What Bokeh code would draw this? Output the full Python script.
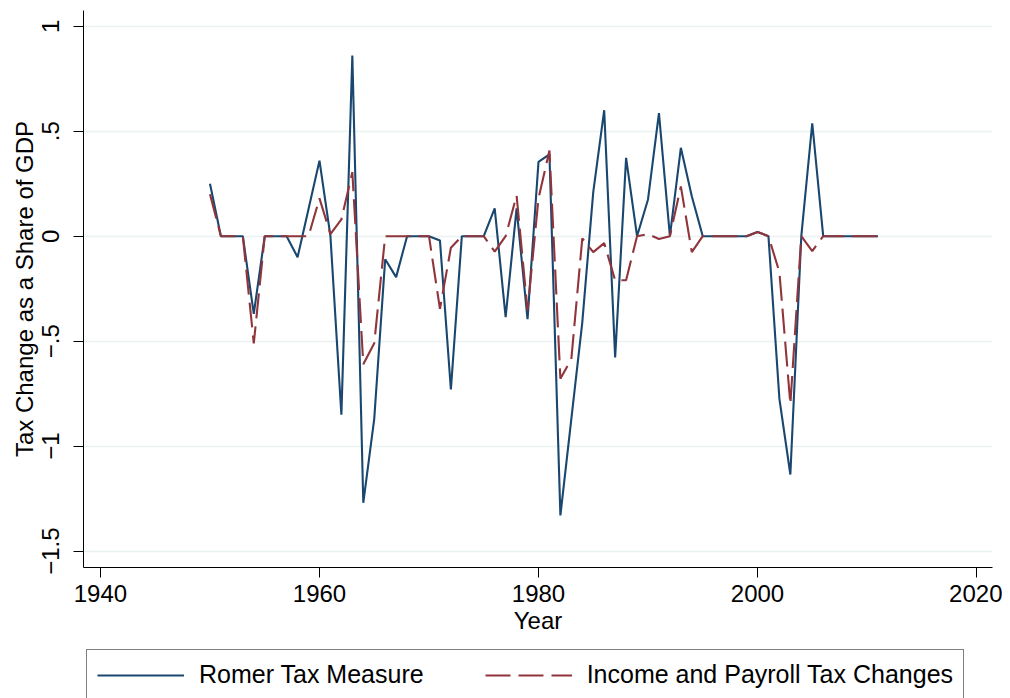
from bokeh.plotting import figure
from bokeh.models import FixedTicker, Range1d, Legend, LegendItem
from bokeh.layouts import column
from bokeh.embed import file_html
from bokeh.resources import INLINE

years = list(range(1950, 2012))
romer_tax = [
    0.25, 0.0, 0.0, 0.0, -0.37, 0.0, 0.0, 0.0, -0.10, 0.13,      # 1950-1959
    0.36, 0.0, -0.85, 0.86, -1.27, -0.87, -0.11, -0.195, 0.0, 0.0,  # 1960-1969
    0.0, -0.02, -0.73, 0.0, 0.0, 0.0, 0.133, -0.386, 0.133, -0.395,  # 1970-1979
    0.354, 0.39, -1.33, -0.87, -0.41, 0.21, 0.60, -0.577, 0.373, 0.0,  # 1980-1989
    0.175, 0.586, 0.0, 0.421, 0.19, 0.0, 0.0, 0.0, 0.0, 0.0,      # 1990-1999
    0.02, 0.0, -0.775, -1.135, 0.0, 0.538, 0.0, 0.0, 0.0, 0.0,    # 2000-2009
    0.0, 0.0,                                                     # 2010-2011
]
income_payroll = [
    0.20, 0.0, 0.0, 0.0, -0.51, 0.0, 0.0, 0.0, 0.0, 0.0,          # 1950-1959
    0.18, 0.01, 0.08, 0.305, -0.61, -0.51, 0.0, 0.0, 0.0, 0.0,    # 1960-1969
    0.0, -0.346, -0.055, 0.0, 0.0, 0.0, -0.073, 0.0, 0.194, -0.354,  # 1970-1979
    0.18, 0.408, -0.679, -0.585, -0.01, -0.076, -0.033, -0.21, -0.21, 0.0,  # 1980-1989
    0.01, -0.013, 0.0, 0.237, -0.076, 0.0, 0.0, 0.0, 0.0, 0.0,    # 1990-1999
    0.02, 0.0, -0.171, -0.80, 0.0, -0.071, 0.0, 0.0, 0.0, 0.0,    # 2000-2009
    0.0, 0.0,                                                     # 2010-2011
]
x_ticks = [1940, 1960, 1980, 2000, 2020]
y_ticks = [1, 0.5, 0, -0.5, -1, -1.5]
y_tick_labels = ["1", ".5", "0", "\u2212.5", "\u22121", "\u22121.5"]
series_labels = ["Romer Tax Measure", "Income and Payroll Tax Changes"]

FONT = "Liberation Sans"
BLUE = "#1A476F"
RED = "#90353B"
DASH = "25 8"

p = figure(frame_width=909, frame_height=557, output_backend="svg", toolbar_location=None,
           x_range=Range1d(1938.45, 2021.46), y_range=Range1d(-1.578, 1.075),
           min_border_left=83, min_border_right=10, min_border_top=10,
           min_border_bottom=80)
p.outline_line_color = None
p.background_fill_color = "white"
p.border_fill_color = "white"

p.line(years, romer_tax, line_color=BLUE, line_width=2.1)
p.line(years, income_payroll, line_color=RED, line_width=2.1, line_dash=DASH)

p.xgrid.visible = False
p.ygrid.grid_line_color = "#EAF2F3"
p.ygrid.grid_line_width = 1.3

for ax in (p.xaxis[0], p.yaxis[0]):
    ax.axis_line_color = "black"
    ax.axis_line_width = 1
    ax.major_tick_line_color = "black"
    ax.major_tick_out = 10
    ax.major_tick_in = 0
    ax.minor_tick_line_color = None
    ax.major_label_text_font = FONT
    ax.major_label_text_font_size = "24px"
    ax.major_label_text_color = "black"
    ax.axis_label_text_font = FONT
    ax.axis_label_text_font_size = "24px"
    ax.axis_label_text_font_style = "normal"
    ax.axis_label_text_color = "black"

p.xaxis.ticker = FixedTicker(ticks=x_ticks)
p.xaxis.axis_label = "Year"
p.xaxis.major_label_standoff = 7
p.xaxis.axis_label_standoff = 2

p.yaxis.ticker = FixedTicker(ticks=y_ticks)
p.yaxis.major_label_overrides = {t: l for t, l in zip(y_ticks, y_tick_labels)}
p.yaxis.major_label_orientation = "vertical"
p.yaxis.axis_label = "Tax Change as a Share of GDP"
p.yaxis.major_label_standoff = 14
p.yaxis.axis_label_standoff = 2

# Legend strip below the chart (its frame is aligned with the chart's frame)
lf = figure(width=1002, height=51, output_backend="svg", toolbar_location=None,
            x_range=Range1d(0, 1), y_range=Range1d(0, 1),
            x_axis_type=None, y_axis_type=None,
            min_border_left=0, min_border_right=0, min_border_top=0, min_border_bottom=0)
lf.outline_line_color = None
lf.xgrid.visible = False
lf.ygrid.visible = False
lf.background_fill_color = "white"
lf.border_fill_color = "white"
# legend keys: same series, outside this strip's visible range
k1 = lf.line(years, romer_tax, line_color=BLUE, line_width=2.1)
k2 = lf.line(years, income_payroll, line_color=RED, line_width=2.1, line_dash=DASH)

legend = Legend(items=[LegendItem(label=series_labels[0], renderers=[k1]),
                       LegendItem(label=series_labels[1], renderers=[k2])],
                orientation="horizontal", location=(3, -2),
                glyph_width=87, glyph_height=28, label_height=28,
                label_standoff=15, spacing=61, padding=10, margin=0,
                border_line_color="black", border_line_width=1,
                label_text_font=FONT, label_text_font_size="25px",
                label_text_color="black")
lf.add_layout(legend, "center")

layout = column(p, lf, spacing=0)
open("out.html", "w").write(file_html(layout, INLINE))
